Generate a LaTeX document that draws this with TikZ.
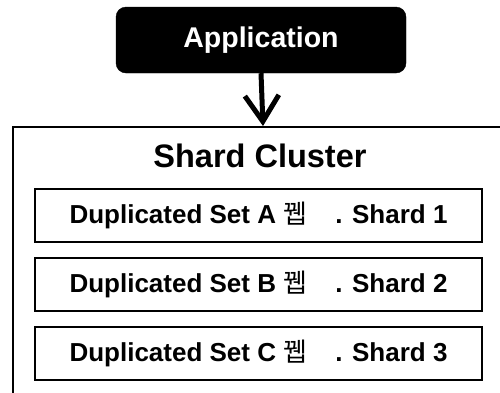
\documentclass[tikz,border=0pt]{standalone}
\usepackage{fontspec}
\setmainfont{Liberation Sans}
\newfontfamily\cjk{Noto Sans CJK KR}
\usetikzlibrary{arrows.meta}
\tikzset{
  appbox/.style={draw=black, fill=black, rounded corners=10pt, minimum width=290pt, minimum height=66pt, text=white, font=\fontsize{28.5}{32}\selectfont\bfseries},
  outerbox/.style={draw=black, line width=2pt, minimum width=500pt, minimum height=300pt, anchor=north},
  setbox/.style={draw=black, line width=2pt, minimum width=447pt, minimum height=53pt, font=\fontsize{26}{30}\selectfont\bfseries},
  title/.style={font=\fontsize{32.5}{36}\selectfont\bfseries},
  flow/.style={line width=5pt, -{Straight Barb[length=26pt, width=34pt, line width=5pt]}}
}
\begin{document}
\begin{tikzpicture}[x=1pt,y=-1pt]
\useasboundingbox (0,0) rectangle (500,392);
\clip (0,0) rectangle (500,392);
\node[appbox] (app) at (261,40) {Application};
\node[outerbox] (cluster) at (263,126) {};
\node[title] (ttl) at (260,156) {Shard Cluster};
\node[setbox] (a) at (258.5,215) {Duplicated Set A {\cjk\mdseries 뀁}\hspace{28pt}. Shard 1};
\node[setbox] (b) at (258.5,284.5) {Duplicated Set B {\cjk\mdseries 뀁}\hspace{28pt}. Shard 2};
\node[setbox] (c) at (258.5,353.5) {Duplicated Set C {\cjk\mdseries 뀁}\hspace{28pt}. Shard 3};
\draw[flow] (app.south) -- (cluster.north);
\end{tikzpicture}
\end{document}
